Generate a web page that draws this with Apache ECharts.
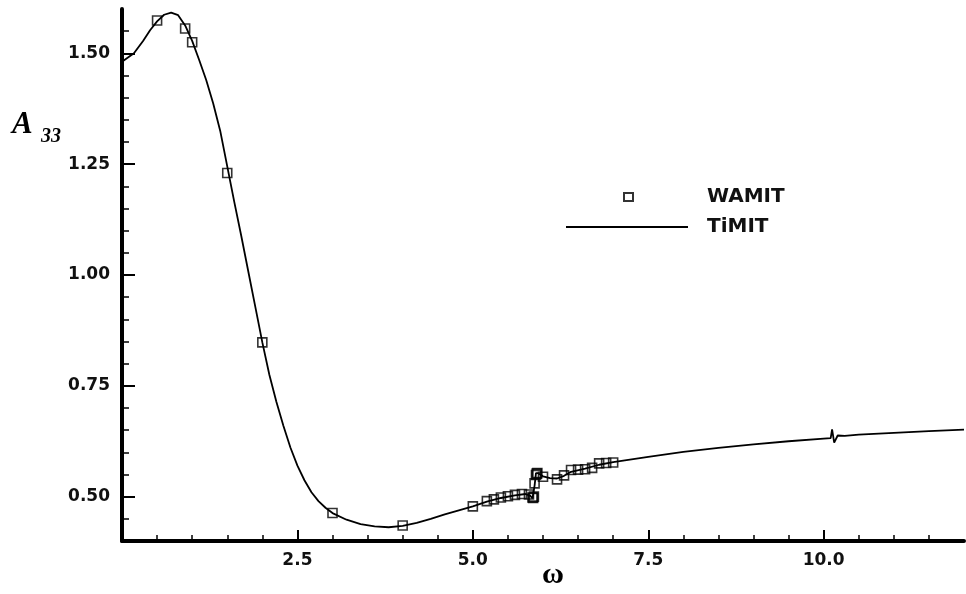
<!DOCTYPE html>
<html>
<head>
<meta charset="utf-8">
<script src="https://cdn.jsdelivr.net/npm/echarts@6/dist/echarts.min.js"></script>
<style>
html,body{margin:0;padding:0;background:#fff;}
#chart{width:966px;height:594px;}
</style>
</head>
<body>
<div id="chart"></div>
<script>
// WAMIT markers (omega, A33)
const wamitOmega = [0.5, 0.9, 1.0, 1.5, 2.0, 3.0, 4.0, 5.0, 5.2, 5.3, 5.4, 5.5, 5.6, 5.7, 5.8, 5.85, 5.86, 5.87, 5.88, 5.9, 5.91, 5.92, 6.0, 6.2, 6.3, 6.4, 6.5, 6.6, 6.7, 6.8, 6.9, 7.0];
const wamitA33   = [1.574, 1.556, 1.525, 1.230, 0.848, 0.463, 0.435, 0.478, 0.490, 0.494, 0.498, 0.501, 0.504, 0.506, 0.505, 0.498, 0.497, 0.500, 0.530, 0.549, 0.552, 0.553, 0.545, 0.539, 0.548, 0.560, 0.561, 0.562, 0.565, 0.575, 0.576, 0.577];

// TiMIT curve (omega, A33)
const timitOmega = [0.0, 0.17, 0.3, 0.4, 0.5, 0.6, 0.7, 0.8, 0.9, 1.0, 1.1, 1.2, 1.3, 1.4, 1.5, 1.6, 1.7, 1.8, 1.9, 2.0, 2.1, 2.2, 2.3, 2.4, 2.5, 2.6, 2.7, 2.8, 2.9, 3.0, 3.2, 3.4, 3.6, 3.8, 4.0, 4.2, 4.4, 4.6, 4.8, 5.0, 5.2, 5.4, 5.6, 5.75, 5.82, 5.85, 5.87, 5.88, 5.9, 5.93, 6.0, 6.1, 6.2, 6.3, 6.4, 6.6, 6.8, 7.0, 7.5, 8.0, 8.5, 9.0, 9.5, 10.0, 10.1, 10.12, 10.15, 10.2, 10.3, 10.5, 11.0, 11.5, 12.0];
const timitA33   = [1.481, 1.500, 1.528, 1.552, 1.572, 1.587, 1.592, 1.586, 1.563, 1.528, 1.485, 1.440, 1.387, 1.325, 1.245, 1.165, 1.088, 1.008, 0.928, 0.848, 0.775, 0.714, 0.660, 0.611, 0.570, 0.537, 0.510, 0.490, 0.475, 0.463, 0.448, 0.438, 0.433, 0.431, 0.434, 0.441, 0.450, 0.460, 0.469, 0.478, 0.489, 0.497, 0.503, 0.506, 0.502, 0.496, 0.498, 0.525, 0.553, 0.553, 0.546, 0.542, 0.541, 0.547, 0.556, 0.563, 0.572, 0.578, 0.590, 0.601, 0.610, 0.618, 0.625, 0.631, 0.632, 0.652, 0.622, 0.638, 0.637, 0.640, 0.644, 0.648, 0.651];

// Axis ticks
const xMajorTicks = [2.5, 5.0, 7.5, 10.0];
const xMinorTicks = [0.5, 1.0, 1.5, 2.0, 3.0, 3.5, 4.0, 4.5, 5.5, 6.0, 6.5, 7.0, 8.0, 8.5, 9.0, 9.5, 10.5, 11.0, 11.5];
const yMajorTicks = [0.50, 0.75, 1.00, 1.25, 1.50];
const yMinorTicks = [0.45, 0.55, 0.60, 0.65, 0.70, 0.80, 0.85, 0.90, 0.95, 1.05, 1.10, 1.15, 1.20, 1.30, 1.35, 1.40, 1.45, 1.55];

const wamitData = wamitOmega.map((x, i) => [x, wamitA33[i]]);
const timitData = timitOmega.map((x, i) => [x, timitA33[i]]);

const labelFont = { fontFamily: 'DejaVu Sans', fontWeight: 'bold', fontSize: 17, color: '#111' };
const XMIN = 0, XMAX = 12, YMIN = 0.4, YMAX = 1.6;

const chart = echarts.init(document.getElementById('chart'), null, { renderer: 'canvas' });
chart.setOption({
  backgroundColor: '#ffffff',
  animation: false,
  grid: { left: 122, right: 2, top: 9, bottom: 53, containLabel: false, outerBoundsMode: 'none' },
  xAxis: [
    {
      type: 'value', min: XMIN, max: XMAX, position: 'bottom',
      splitLine: { show: false },
      axisLine: { show: true, lineStyle: { color: '#000', width: 4 } },
      axisTick: { show: true, inside: true, length: 11, customValues: xMajorTicks, lineStyle: { color: '#000', width: 2 } },
      axisLabel: { show: true, customValues: xMajorTicks, margin: 11, formatter: v => v.toFixed(1), ...labelFont },
      name: 'ω', nameLocation: 'middle', nameGap: 19, nameMoveOverlap: false,
      nameTextStyle: { fontFamily: 'Liberation Serif', fontWeight: 'bold', fontSize: 30, color: '#000', padding: [0, 0, 0, 20] }
    },
    {
      type: 'value', min: XMIN, max: XMAX, position: 'bottom',
      splitLine: { show: false },
      axisLine: { show: false },
      axisTick: { show: true, inside: true, length: 6, customValues: xMinorTicks, lineStyle: { color: '#000', width: 1.5 } },
      axisLabel: { show: false }
    }
  ],
  yAxis: [
    {
      type: 'value', min: YMIN, max: YMAX, position: 'left',
      splitLine: { show: false },
      axisLine: { show: true, lineStyle: { color: '#000', width: 4 } },
      axisTick: { show: true, inside: true, length: 13, customValues: yMajorTicks, lineStyle: { color: '#000', width: 2 } },
      axisLabel: { show: true, customValues: yMajorTicks, margin: 12, formatter: v => v.toFixed(2), ...labelFont }
    },
    {
      type: 'value', min: YMIN, max: YMAX, position: 'left',
      splitLine: { show: false },
      axisLine: { show: false },
      axisTick: { show: true, inside: true, length: 7, customValues: yMinorTicks, lineStyle: { color: '#000', width: 1.5 } },
      axisLabel: { show: false }
    }
  ],
  legend: [
    {
      data: ['WAMIT'], left: 623, top: 187, orient: 'horizontal', padding: 0,
      itemWidth: 9, itemHeight: 8,
      textStyle: { fontFamily: 'DejaVu Sans', fontWeight: 'bold', fontSize: 20, color: '#111', padding: [14, 0, 0, 69] }
    },
    {
      data: [{ name: 'TiMIT', icon: 'rect' }], left: 566, top: 217, orient: 'horizontal', padding: 0,
      itemWidth: 122, itemHeight: 2,
      itemStyle: { color: '#000', borderWidth: 0 },
      textStyle: { fontFamily: 'DejaVu Sans', fontWeight: 'bold', fontSize: 20, color: '#111', padding: [26, 0, 0, 14] }
    }
  ],
  graphic: [
    { type: 'text', left: 12, top: 109, style: { text: 'A', font: 'italic bold 31px "Liberation Serif"', fill: '#000' } },
    { type: 'text', left: 41, top: 127, style: { text: '33', font: 'italic bold 20px "Liberation Serif"', fill: '#000' } }
  ],
  series: [
    {
      name: 'TiMIT', type: 'line', data: timitData, symbol: 'none', smooth: false,
      lineStyle: { color: '#000', width: 1.8 }, itemStyle: { color: '#000' }, z: 2
    },
    {
      name: 'WAMIT', type: 'scatter', data: wamitData, symbol: 'rect', symbolSize: 9,
      itemStyle: { color: 'rgba(255,255,255,0)', borderColor: '#000', borderWidth: 1.6 }, z: 3
    }
  ]
});
</script>
</body>
</html>
